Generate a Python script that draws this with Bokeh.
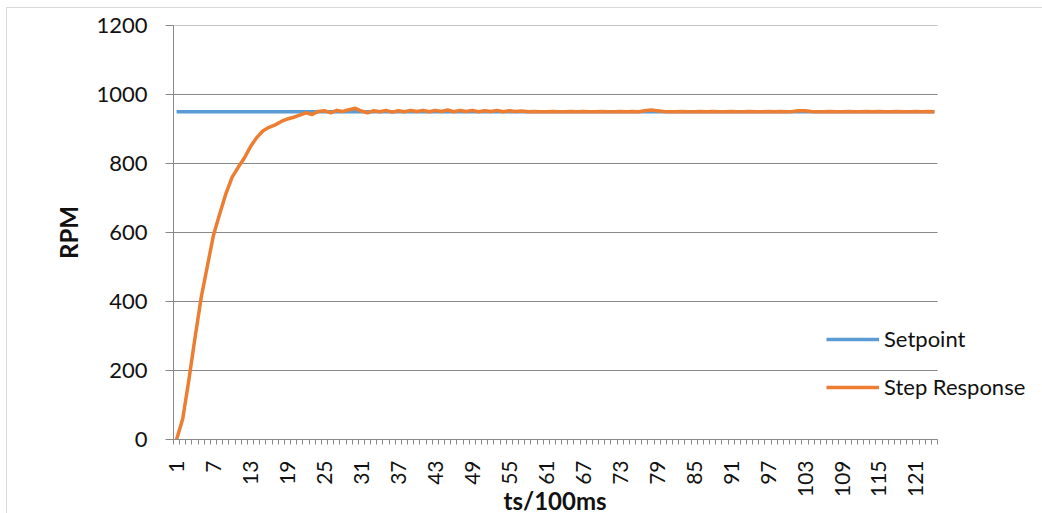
import math
from bokeh.plotting import figure
from bokeh.models import (Range1d, FixedTicker, Legend, LegendItem,
                          ColumnDataSource, Title)
from bokeh.embed import file_html
from bokeh.resources import INLINE

# ---- data ----
ts = list(range(1, 125))
setpoint = [950] * 124
step_response = [
    0, 60, 173, 296, 412, 503, 593, 654, 712, 760,
    789, 816, 849, 875, 894, 905, 912, 922, 929, 934,
    940, 947, 942, 951, 953, 947, 954, 951, 956, 960,
    952, 947, 953, 950, 954, 949, 953, 950, 954, 951,
    954, 950, 954, 951, 955, 950, 954, 951, 954, 950,
    953, 951, 954, 950, 953, 951, 952, 950, 951, 950,
    950, 951, 950, 950, 951, 950, 951, 950, 950, 951,
    950, 950, 951, 950, 951, 950, 953, 955, 953, 951,
    950, 950, 951, 950, 950, 951, 950, 951, 950, 950,
    951, 950, 950, 951, 950, 950, 951, 950, 951, 950,
    951, 953, 953, 951, 950, 950, 951, 950, 950, 951,
    950, 950, 951, 950, 951, 950, 950, 951, 950, 950,
    951, 950, 951, 950,
]
y_ticks = [0, 200, 400, 600, 800, 1000, 1200]
x_label_ticks = list(range(1, 125, 6))

N = len(ts)
FONT = "Lato"
GRID = "#888888"
TXT = "#111111"

W, H = 1042, 513
LEFT, RIGHT_DATA, TOP, BOTTOM = 173, 937, 25, 439
# frame spans to the right edge so the legend can sit past the data area
x_end = 0.5 + N * (W - LEFT) / (RIGHT_DATA - LEFT)

p = figure(width=W, height=H, output_backend="svg", toolbar_location=None,
           x_range=Range1d(0.5, x_end), y_range=Range1d(0, 1200),
           min_border_left=LEFT, min_border_right=0, min_border_top=TOP,
           min_border_bottom=H - BOTTOM)
p.outline_line_color = None
p.xgrid.grid_line_color = None
p.ygrid.grid_line_color = None
p.border_fill_color = None
p.background_fill_color = None
p.styles = {
    "background": "linear-gradient(#d9d9d9,#d9d9d9) 6px 7px / 1px 100% no-repeat,"
                  " linear-gradient(#d9d9d9,#d9d9d9) 6px 7px / 100% 1px no-repeat,"
                  " #ffffff",
}

# horizontal gridlines across the category area only
p.segment(x0=[0.5] * len(y_ticks), x1=[N + 0.5] * len(y_ticks),
          y0=y_ticks, y1=y_ticks, line_color=GRID, line_width=1)

src = ColumnDataSource(dict(ts=ts, setpoint=setpoint, step=step_response))
r1 = p.line("ts", "setpoint", source=src, line_color="#5B9BD5", line_width=3.5)
r2 = p.line("ts", "step", source=src, line_color="#ED7D31", line_width=3.5,
            line_join="round")

# y axis
ya = p.yaxis[0]
ya.ticker = FixedTicker(ticks=y_ticks)
ya.axis_line_color = GRID
ya.major_tick_line_color = GRID
ya.major_tick_out = 8
ya.major_tick_in = 0
ya.minor_tick_line_color = None
ya.major_label_standoff = 18
ya.major_label_text_font = FONT
ya.major_label_text_font_size = "22px"
ya.major_label_text_color = TXT
ya.axis_label = "RPM"
ya.axis_label_text_font = FONT
ya.axis_label_text_font_style = "bold"
ya.axis_label_text_font_size = "24px"
ya.axis_label_text_color = TXT
ya.axis_label_standoff = 10

# x axis
xa = p.xaxis[0]
xa.bounds = (0.5, N + 0.5)
xa.ticker = FixedTicker(ticks=x_label_ticks,
                        minor_ticks=[t - 0.5 for t in ts] + [N + 0.5])
xa.axis_line_color = GRID
xa.major_tick_line_color = None
xa.major_tick_out = 0
xa.major_tick_in = 0
xa.minor_tick_line_color = GRID
xa.minor_tick_out = 5
xa.minor_tick_in = 0
xa.major_label_orientation = math.pi / 2
xa.major_label_standoff = 16
xa.major_label_text_font = FONT
xa.major_label_text_font_size = "21px"
xa.major_label_text_color = TXT

# x-axis title, centred under the category area (not the whole frame)
xt = Title(text="ts/100ms", align="left", offset=330, standoff=-30,
           vertical_align="top",
           text_font=FONT, text_font_style="bold", text_font_size="24px",
           text_color=TXT)
p.add_layout(xt, "below")

legend = Legend(items=[LegendItem(label="Setpoint", renderers=[r1]),
                       LegendItem(label="Step Response", renderers=[r2])],
                location=(RIGHT_DATA - LEFT - 111, 39), orientation="vertical",
                padding=0, margin=0, spacing=21,
                glyph_width=53, glyph_height=24, label_height=24,
                label_standoff=5, border_line_color=None,
                background_fill_alpha=0,
                label_text_font=FONT, label_text_font_size="22px",
                label_text_color=TXT)
p.add_layout(legend)

open("out.html", "w").write(file_html(p, INLINE))
